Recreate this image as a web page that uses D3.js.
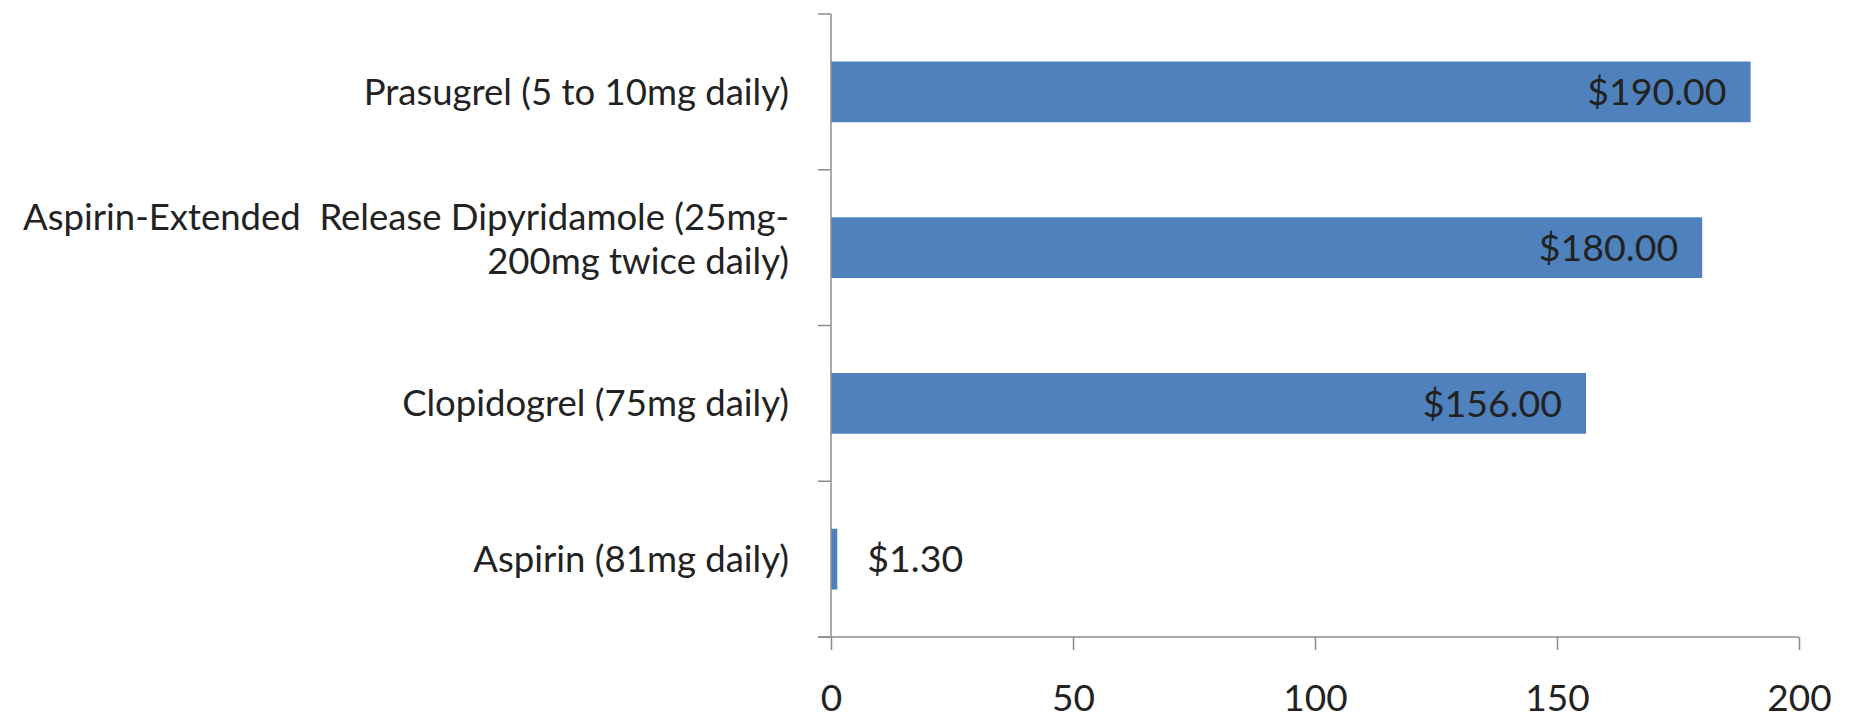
<!DOCTYPE html>
<html>
<head>
<meta charset="utf-8">
<script src="https://cdn.jsdelivr.net/npm/d3@7"></script>
<style>
  html, body { margin: 0; padding: 0; background: #fff; }
  svg { display: block; }
  text { font-family: Lato, "Open Sans", sans-serif; fill: #222; }
</style>
</head>
<body>
<svg id="chart" width="1851" height="719"></svg>
<script>
// Annual cost of antiplatelet therapy, bottom to top as listed
const categories = [
  ["Aspirin (81mg daily)"],
  ["Clopidogrel (75mg daily)"],
  ["Aspirin-Extended  Release Dipyridamole (25mg-", "200mg twice daily)"],
  ["Prasugrel (5 to 10mg daily)"]
];
const costs = [1.30, 156.00, 180.00, 190.00];
const valueLabels = ["$1.30", "$156.00", "$180.00", "$190.00"];
const xTicks = [0, 50, 100, 150, 200];

const width = 1851, height = 719;
const margin = { top: 14, right: 52, bottom: 82, left: 831 };
const svg = d3.select("#chart");

const keys = categories.map((c, i) => i);
const y = d3.scaleBand()
  .domain(keys.slice().reverse())
  .range([margin.top, height - margin.bottom])
  .paddingInner(0.61)
  .paddingOuter(0.305);

const x = d3.scaleLinear()
  .domain([0, 200])
  .range([margin.left, width - margin.right]);

const axisColor = "#8c8c8c";
const baseY = height - margin.bottom;

// Bars
svg.append("g").selectAll("rect")
  .data(keys)
  .join("rect")
  .attr("x", x(0))
  .attr("y", i => y(i))
  .attr("width", i => x(costs[i]) - x(0))
  .attr("height", y.bandwidth())
  .attr("fill", "#4f81bd");

// Value axis (bottom)
const xAxis = svg.append("g")
  .attr("transform", `translate(0,${baseY})`)
  .call(d3.axisBottom(x).tickValues(xTicks).tickSize(13).tickPadding(35).tickSizeOuter(0));
xAxis.select(".domain").remove();
xAxis.selectAll(".tick line").attr("stroke", axisColor).attr("stroke-width", 1.5);
xAxis.selectAll(".tick text")
  .attr("font-size", 37)
  .attr("fill", "#222")
  .style("font-family", "Lato, sans-serif");
svg.append("line")
  .attr("x1", margin.left - 13).attr("x2", x(200))
  .attr("y1", baseY).attr("y2", baseY)
  .attr("stroke", axisColor).attr("stroke-width", 1.5);

// Category axis (left): line plus ticks at band boundaries
svg.append("line")
  .attr("x1", x(0)).attr("x2", x(0))
  .attr("y1", margin.top).attr("y2", baseY)
  .attr("stroke", axisColor).attr("stroke-width", 1.5);
const step = y.step();
const boundaries = d3.range(categories.length + 1).map(k => margin.top + k * step);
svg.append("g").selectAll("line")
  .data(boundaries)
  .join("line")
  .attr("x1", x(0) - 13).attr("x2", x(0))
  .attr("y1", d => d).attr("y2", d => d)
  .attr("stroke", axisColor).attr("stroke-width", 1.5);

// Category labels (wrapped labels sit slightly above the band centre)
const lineH = 44;
const labelX = x(0) - 42;
const labels = svg.append("g").selectAll("text")
  .data(keys)
  .join("text")
  .attr("text-anchor", "end")
  .attr("font-size", 36.5)
  .style("white-space", "pre")
  .attr("x", labelX)
  .attr("y", i => y(i) + y.bandwidth() / 2);
labels.each(function(i) {
  const lines = categories[i];
  const t = d3.select(this);
  const cy = y(i) + y.bandwidth() / 2 - (lines.length > 1 ? 8 : 0);
  lines.forEach((s, k) => {
    t.append("tspan")
      .attr("x", labelX)
      .attr("y", cy + (k - (lines.length - 1) / 2) * lineH)
      .attr("dy", "0.35em")
      .text(s);
  });
});

// Value labels: inside the bar end when it fits, outside otherwise
svg.append("g").selectAll("text")
  .data(keys)
  .join("text")
  .attr("font-size", 37.5)
  .attr("dy", "0.35em")
  .attr("y", i => y(i) + y.bandwidth() / 2)
  .attr("x", i => costs[i] > 20 ? x(costs[i]) - 24 : x(costs[i]) + 30)
  .attr("text-anchor", i => costs[i] > 20 ? "end" : "start")
  .text(i => valueLabels[i]);
</script>
</body>
</html>
